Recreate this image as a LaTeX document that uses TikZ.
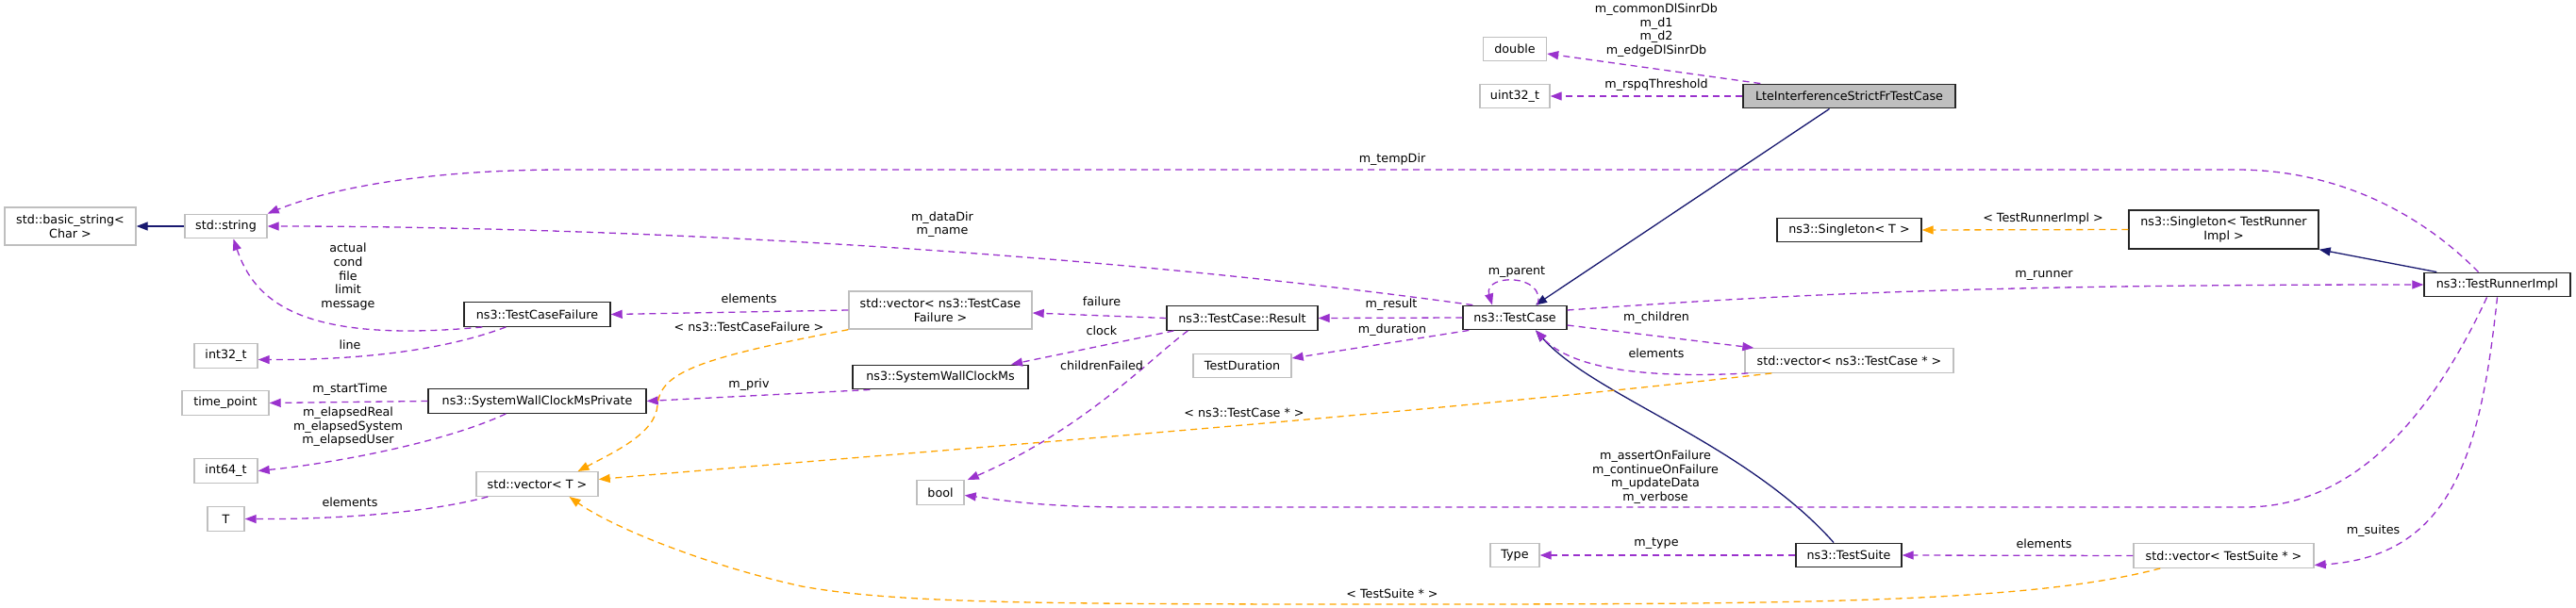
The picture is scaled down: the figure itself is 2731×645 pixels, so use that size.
\documentclass[tikz,border=0pt]{standalone}
\usepackage{fontspec}
\setmainfont{DejaVu Sans}
\usepackage{xcolor}
\usetikzlibrary{positioning,calc,arrows.meta}
\definecolor{dgpurple}{HTML}{9A32CD}
\definecolor{dgnavy}{HTML}{191970}
\definecolor{dgorange}{HTML}{FFA500}
\definecolor{dgedge}{HTML}{BFBFBF}
\tikzset{
  dgfont/.style={font=\fontsize{12.7pt}{14.6pt}\selectfont},
  dgbox/.style={draw=black!85, line width=1.4pt, align=center, inner sep=0pt, minimum height=25.5pt, fill=white},
  dgboxgray/.style={dgbox, draw=dgedge},
  dgboxmain/.style={dgbox, fill=dgedge},
  dglabel/.style={align=center, inner sep=0pt},
  dgarrow/.style={-{Triangle[length=12pt,width=9pt]}, dgpurple, line width=1.3pt, dash pattern=on 7pt off 5pt},
  dgarrowtpl/.style={dgarrow, dgorange},
  dgarrowinh/.style={-{Triangle[length=12pt,width=9pt]}, dgnavy, line width=1.3pt},
}
\begin{document}
\begin{tikzpicture}[x=1pt,y=-1pt,dgfont]
  \path[fill=white] (0,0) rectangle (2731,645);
  \useasboundingbox (0,0) rectangle (2731,645);

  % Left columns: plain types
  \node[dgboxgray, minimum width=139pt, minimum height=40pt] (basic) at (74.5,240) {std::basic\_string<\\Char >};
  \node[dgboxgray, minimum width=87pt] (str) at (239.5,240) {std::string};
  \node[dgboxgray, minimum width=67pt] (i32) at (239.5,377.5) {int32\_t};
  \node[dgboxgray, minimum width=92pt] (tp) at (239,427.5) {time\_point};
  \node[dgboxgray, minimum width=67pt] (i64) at (239.5,499.5) {int64\_t};
  \node[dgboxgray, minimum width=39pt] (tparam) at (239.5,550.5) {T};

  \node[dgbox, minimum width=155pt] (tcf) at (569.5,333.5) {ns3::TestCaseFailure};
  \node[dgbox, minimum width=231pt] (swcmp) at (569.5,425.5) {ns3::SystemWallClockMsPrivate};
  \node[dgboxgray, minimum width=129pt] (vecT) at (569.5,513.5) {std::vector< T >};

  \node[dgboxgray, minimum width=194pt, minimum height=40pt] (vtcf) at (997,329) {std::vector< ns3::TestCase\\Failure >};
  \node[dgbox, minimum width=186pt] (swcm) at (997,400) {ns3::SystemWallClockMs};
  \node[dgboxgray, minimum width=50pt] (boolt) at (997,522.5) {bool};

  \node[dgbox, minimum width=160pt] (res) at (1317,337.5) {ns3::TestCase::Result};
  \node[dgboxgray, minimum width=104pt] (tdur) at (1317,388) {TestDuration};

  % Middle: the test case and its members
  \node[dgboxgray, minimum width=67pt] (dbl) at (1606,52) {double};
  \node[dgboxgray, minimum width=74pt] (u32) at (1606,102) {uint32\_t};
  \node[dgbox, minimum width=110pt] (tc) at (1606,337) {ns3::TestCase};
  \node[dgboxgray, minimum width=52pt] (typ) at (1606,589) {Type};

  \node[dgboxmain, minimum width=225pt] (lte) at (1960.5,102) {LteInterferenceStrictFrTestCase};
  \node[dgbox, minimum width=153pt] (sgT) at (1960.5,244) {ns3::Singleton< T >};
  \node[dgboxgray, minimum width=221pt] (vtc) at (1960.5,382.5) {std::vector< ns3::TestCase * >};
  \node[dgbox, minimum width=112pt] (ts) at (1960,589) {ns3::TestSuite};

  % Right: runner side
  \node[dgbox, minimum width=201pt, minimum height=41pt] (sgR) at (2357.5,243.5) {ns3::Singleton< TestRunner\\Impl >};
  \node[dgboxgray, minimum width=191pt] (vts) at (2357.5,589.5) {std::vector< TestSuite * >};
  \node[dgbox, minimum width=155pt] (tri) at (2647.5,302) {ns3::TestRunnerImpl};

  % Inheritance
  \draw[dgarrowinh] (str.west) -- (basic.east);
  \draw[dgarrowinh] ($(lte.south)+(-21,0)$) -- ($(tc.north)+(22,0)$);
  \draw[dgarrowinh] ($(ts.north)+(-16,0)$) .. controls (1850,470) and (1690,420) .. ($(tc.south)+(22,0)$);
  \draw[dgarrowinh] ($(tri.north west)+(14,0)$) -- (sgR.south east);

  % Members of LteInterferenceStrictFrTestCase
  \draw[dgarrow] ($(lte.north west)+(19,0)$) -- ($(dbl.east)+(0,5)$);
  \node[dglabel] (lblDbl) at (1756,32) {m\_commonDlSinrDb\\m\_d1\\m\_d2\\m\_edgeDlSinrDb};
  \draw[dgarrow] (lte.west) -- (u32.east);
  \node[dglabel] (lblU32) at (1756,90) {m\_rspqThreshold};

  % Members of TestCase
  \draw[dgarrow] ($(tc.north)+(24,0)$) .. controls (1640,290) and (1572,290) .. ($(tc.north)+(-24,0)$);
  \node[dglabel] (lblParent) at (1608,289) {m\_parent};
  \draw[dgarrow] (tc.west) -- (res.east);
  \node[dglabel] (lblRes) at (1475,323) {m\_result};
  \draw[dgarrow] ($(tc.south west)+(7,0)$) -- ($(tdur.east)+(0,-8)$);
  \node[dglabel] (lblDur) at (1476,350) {m\_duration};
  \draw[dgarrow] ($(tc.east)+(0,8)$) -- ($(vtc.north west)+(10,0)$);
  \node[dglabel] (lblChildren) at (1756,337) {m\_children};
  \draw[dgarrow] ($(vtc.south west)+(4,0)$) .. controls (1740,402) and (1665,390) .. ($(tc.south)+(22,0)$);
  \node[dglabel] (lblElemTC) at (1756,375) {elements};
  \draw[dgarrow] ($(tc.north west)+(11,0)$) .. controls (1100,260) and (600,240) .. (str.east);
  \node[dglabel] (lblData) at (999,238) {m\_dataDir\\m\_name};
  \draw[dgarrow] ($(tc.east)+(0,-8)$) .. controls (1900,312) and (2100,302) .. (tri.west);
  \node[dglabel] (lblRunner) at (2167,292) {m\_runner};

  % Result, failures and clocks
  \draw[dgarrow] (res.west) -- ($(vtcf.east)+(0,3)$);
  \node[dglabel] (lblFail) at (1168,320) {failure};
  \draw[dgarrow] ($(res.south west)+(8,0)$) -- ($(swcm.north)+(75,0)$);
  \node[dglabel] (lblClock) at (1168,351) {clock};
  \draw[dgarrow] ($(res.south west)+(23,0)$) .. controls (1222,378) and (1150,455) .. ($(boolt.north east)+(3,0)$);
  \node[dglabel] (lblChild) at (1168,388) {childrenFailed};
  \draw[dgarrow] (vtcf.west) -- (tcf.east);
  \node[dglabel] (lblElemF) at (794,317) {elements};
  \draw[dgarrow] ($(tcf.south west)+(20,0)$) .. controls (320,365) and (270,320) .. ($(str.south)+(8,0)$);
  \node[dglabel] (lblStr) at (369,293.5) {actual\\cond\\file\\limit\\message};
  \draw[dgarrow] ($(tcf.south west)+(45,0)$) .. controls (470,372) and (380,382) .. ($(i32.east)+(0,4)$);
  \node[dglabel] (lblLine) at (371,366) {line};
  \draw[dgarrow] ($(swcm.south west)+(19,0)$) -- (swcmp.east);
  \node[dglabel] (lblPriv) at (794,408) {m\_priv};
  \draw[dgarrow] (swcmp.west) -- (tp.east);
  \node[dglabel] (lblStart) at (371,413) {m\_startTime};
  \draw[dgarrow] ($(swcmp.south west)+(83,0)$) .. controls (470,470) and (350,492) .. (i64.east);
  \node[dglabel] (lblElapsed) at (369,453) {m\_elapsedReal\\m\_elapsedSystem\\m\_elapsedUser};
  \draw[dgarrow] ($(vecT.south west)+(13,0)$) .. controls (450,545) and (350,551) .. (tparam.east);
  \node[dglabel] (lblElemT) at (371,533) {elements};

  % Template instances of std::vector
  \draw[dgarrowtpl] (vtcf.south west) .. controls (740,380) and (700,395) .. (697,430)
    .. controls (695,460) and (650,480) .. ($(vecT.north)+(43,0)$);
  \node[dglabel] (lblTplF) at (794,347) {< ns3::TestCaseFailure >};
  \draw[dgarrowtpl] ($(vtc.south west)+(29,0)$) .. controls (1500,440) and (900,485) .. ($(vecT.east)+(0,-5)$);
  \node[dglabel] (lblTplTC) at (1319,438) {< ns3::TestCase * >};
  \draw[dgarrowtpl] ($(vts.south west)+(29,0)$) .. controls (2150,640) and (1900,641) .. (1476,641)
    .. controls (1100,641) and (950,640) .. (850,622) .. controls (750,600) and (650,560) .. ($(vecT.south)+(34,0)$);
  \node[dglabel] (lblTplTS) at (1476,630) {< TestSuite * >};
  \draw[dgarrowtpl] (sgR.west) -- (sgT.east);
  \node[dglabel] (lblTplR) at (2166,232) {< TestRunnerImpl >};

  % Members of TestSuite and TestRunnerImpl
  \draw[dgarrow] (ts.west) -- (typ.east);
  \node[dglabel] (lblType) at (1756,577) {m\_type};
  \draw[dgarrow] (vts.west) -- (ts.east);
  \node[dglabel] (lblElemTS) at (2167,577) {elements};
  \draw[dgarrow] ($(tri.north)+(-20,0)$) .. controls (2560,220) and (2470,180) .. (2371,180)
    -- (600,180) .. controls (450,180) and (350,200) .. (str.north east);
  \node[dglabel] (lblTemp) at (1476,169) {m\_tempDir};
  \draw[dgarrow] ($(tri.south)+(-11,0)$) .. controls (2560,480) and (2470,538) .. (2380,538)
    -- (1200,538) .. controls (1100,538) and (1060,530) .. ($(boolt.east)+(0,3)$);
  \node[dglabel] (lblFlags) at (1755,506) {m\_assertOnFailure\\m\_continueOnFailure\\m\_updateData\\m\_verbose};
  \draw[dgarrow] (tri.south) .. controls (2630,480) and (2600,590) .. ($(vts.east)+(0,10)$);
  \node[dglabel] (lblSuites) at (2516,563) {m\_suites};
\end{tikzpicture}
\end{document}
